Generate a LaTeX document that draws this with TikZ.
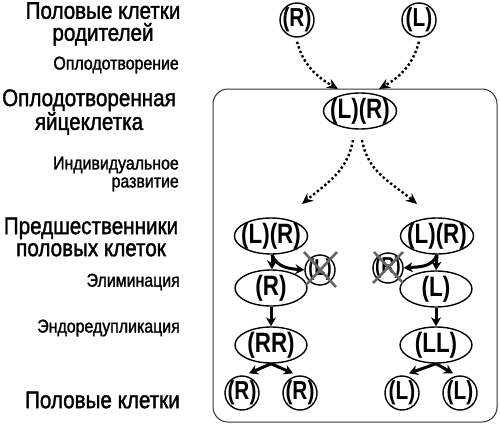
\documentclass[tikz,border=0pt]{standalone}
\usepackage{fontspec}
\setmainfont{Liberation Sans}
\newfontfamily\cellfont[FakeStretch=0.8]{Liberation Sans}
\newfontfamily\labfont[FakeStretch=0.86,FakeBold=1.5]{Liberation Sans}
\usetikzlibrary{shapes.geometric,arrows.meta}
\begin{document}
\begin{tikzpicture}[x=1pt,y=-1pt,
  every node/.style={inner sep=0pt},
  cell/.style={draw, line width=1.4pt, ellipse, inner xsep=-4pt, inner ysep=-0.5pt,
    minimum width=72pt, minimum height=36pt,
    font=\cellfont\bfseries\fontsize{28}{28}\selectfont},
  gam/.style={draw, line width=1.4pt, circle, inner sep=-2.5pt, minimum size=34pt,
    font=\cellfont\bfseries\fontsize{26}{26}\selectfont},
  dead/.style={draw, line width=1.4pt, circle, inner sep=-2.5pt, minimum size=30pt,
    font=\cellfont\bfseries\fontsize{23}{23}\selectfont},
  arr/.style={line width=3pt, -{Stealth[length=9pt,width=10pt]}},
  dots/.style={line width=2.4pt, dash pattern=on 2.4pt off 2.4pt, -{Stealth[length=11pt,width=10pt]}},
  xmark/.style={line width=2.6pt, draw=black!60},
  big/.style={font=\labfont\fontsize{24}{22}\selectfont, align=center},
  small/.style={font=\labfont\fontsize{18.5}{18}\selectfont, align=right, anchor=east}]
\useasboundingbox (0,0) rectangle (500,428);
% frame
\draw[line width=1pt, draw=black!80, rounded corners=15pt] (213,89) rectangle (497,422);
% left labels
\node[big] (t1) at (103,24) {Половые клетки\\родителей};
\node[small] (t2) at (179,65) {Оплодотворение};
\node[big] (t3) at (89,112) {Оплодотворенная\\яйцеклетка};
\node[small] (t4) at (179,174) {Индивидуальное\\развитие};
\node[big] (t5) at (91,237) {Предшественники\\половых клеток};
\node[small] (t6) at (180,282) {Элиминация};
\node[small] (t7) at (180,328) {Эндоредупликация};
\node[big, anchor=east] (t8) at (180,400) {Половые клетки};
% nodes
\node[gam] (p1) at (297,20) {(R)};
\node[gam] (p2) at (419,20) {(L)};
\node[cell] (z) at (360,111) {(L)(R)};
\node[cell] (lA) at (271,236) {(L)(R)};
\node[dead] (lX) at (320,270) {(L)};
\node[cell] (lB) at (271,288) {(R)};
\node[cell] (lC) at (271,345) {(RR)};
\node[gam] (lD) at (242,393) {(R)};
\node[gam] (lE) at (300,393) {(R)};
\node[cell] (rA) at (437,236) {(L)(R)};
\node[dead] (rX) at (388,268) {(R)};
\node[cell] (rB) at (436,289) {(L)};
\node[cell] (rC) at (436,345) {(LL)};
\node[gam] (rD) at (402,393) {(L)};
\node[gam] (rE) at (460,393) {(L)};
% crosses
\draw[xmark] ([shift={(-16,-18)}]lX.center) -- ([shift={(16,17)}]lX.center);
\draw[xmark] ([shift={(17,-18)}]lX.center) -- ([shift={(-14,15)}]lX.center);
\draw[xmark] ([shift={(-14,-16)}]rX.center) -- ([shift={(15,15)}]rX.center);
\draw[xmark] ([shift={(15,-16)}]rX.center) -- ([shift={(-15,15)}]rX.center);
% coordinates
\coordinate (f1) at (338,89);
\coordinate (f2) at (379,89);
\coordinate (d1) at (353,140);
\coordinate (d2) at (362,140);
\coordinate (e1) at (302,204);
\coordinate (e2) at (417,204);
% dotted arrows
\draw[dots] ([yshift=-4pt]p1.south) to[out=-75,in=150] (f1);
\draw[dots] ([yshift=-4pt]p2.south) to[out=-105,in=30] (f2);
\draw[dots] (d1) to[out=-100,in=40] (e1);
\draw[dots] (d2) to[out=-80,in=140] (e2);
% left lineage
\draw[arr] ([xshift=1pt]lA.south) -- ([xshift=1pt]lB.north);
\draw[arr] ([xshift=1pt]lA.south) to[out=-70,in=175] (lX.west);
\draw[arr] (lB.south) -- (lC.north);
\draw[arr] (lC.south) -- ([shift={(7,-2)}]lD.north);
\draw[arr] (lC.south) -- ([shift={(-7,-2)}]lE.north);
% right lineage
\draw[arr] (rA.south) -- (rB.north);
\draw[arr] (rA.south) to[out=-110,in=5] (rX.east);
\draw[arr] (rB.south) -- (rC.north);
\draw[arr] (rC.south) -- ([shift={(7,-2)}]rD.north);
\draw[arr] (rC.south) -- ([shift={(-7,-2)}]rE.north);
\end{tikzpicture}
\end{document}
